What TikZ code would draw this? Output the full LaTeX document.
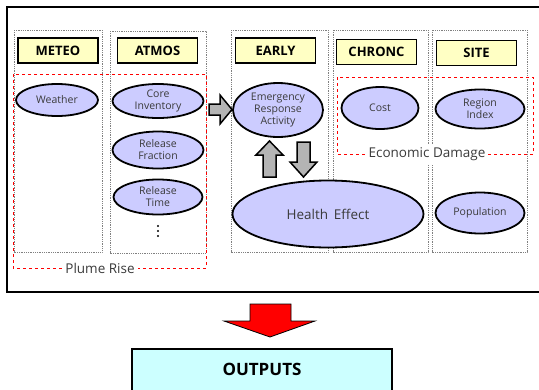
\documentclass[tikz,border=0pt]{standalone}
\usepackage{fontspec}
\setmainfont{Open Sans}
\usetikzlibrary{shapes.geometric}
\definecolor{titlefill}{HTML}{FFFFC4}
\definecolor{itemfill}{HTML}{CCCCFF}
\definecolor{outfill}{HTML}{CCFFFF}
\definecolor{arrowgray}{HTML}{B4B4B4}
\definecolor{textgray}{HTML}{3A3A3A}
\tikzset{
  col/.style={draw=gray, densely dotted, line width=0.8pt},
  titlebox/.style={draw, line width=1.8pt, fill=titlefill, minimum width=80pt,
    minimum height=25pt, inner sep=0pt, font=\fontsize{13}{15}\selectfont\bfseries},
  item/.style={ellipse, draw, line width=1.8pt, fill=itemfill, inner sep=0pt,
    align=center, text=textgray, font=\fontsize{10.5}{12}\selectfont},
  group/.style={draw=red, dashed, line width=0.9pt},
  grouplabel/.style={fill=white, inner sep=3pt, text=textgray, font=\fontsize{13.5}{15}\selectfont},
  blockarrow/.style={draw, line width=1.5pt, fill=arrowgray, line join=miter}
}
\begin{document}
\begin{tikzpicture}[x=1pt, y=-1pt]
  \useasboundingbox (0,0) rectangle (539,389);
  % outer frame
  \draw[line width=1.6pt] (7,7) rectangle (545,292);
  % columns
  \draw[col] (14,30) rectangle (102,252);
  \draw[col] (110,31) rectangle (206,253);
  \draw[col] (231,30) rectangle (328,252);
  \draw[col] (333,30) rectangle (428,252);
  \draw[col] (432,30) rectangle (527,252);
  \node[titlebox] (meteo) at (58,50.5) {METEO};
  \node[titlebox] (atmos) at (157.5,50.5) {ATMOS};
  \node[titlebox] (early) at (275.5,50.5) {EARLY};
  \node[titlebox] (chronc) at (376.5,52) {CHRONC};
  \node[titlebox] (site) at (476.5,53) {SITE};
  % groups
  \draw[group] (13,74) rectangle (206,268);
  \node[grouplabel] (plume) at (100,268) {Plume Rise};
  \draw[group] (337,77) rectangle (533,154);
  \node[grouplabel] (econ) at (427,154) {Economic Damage};
  % items
  \node[item, minimum width=82pt, minimum height=32pt] (weather) at (57,100) {Weather};
  \node[item, minimum width=91pt, minimum height=34pt] (core) at (158,101) {Core\\Inventory};
  \node[item, minimum width=91pt, minimum height=37pt] (fraction) at (158,150) {Release\\Fraction};
  \node[item, minimum width=89pt, minimum height=35pt] (reltime) at (158,197) {Release\\Time};
  \foreach \y in {226,231,236} \fill (158,\y) circle (1.2pt);
  \node[item, minimum width=90pt, minimum height=54pt] (emergency) at (278,110) {Emergency\\Response\\Activity};
  \node[item, minimum width=191pt, minimum height=67pt, font=\fontsize{13.5}{15}\selectfont] (health) at (328,214) {Health\, Effect};
  \node[item, minimum width=77pt, minimum height=42pt] (cost) at (380,108) {Cost};
  \node[item, minimum width=89pt, minimum height=39pt] (region) at (480,109) {Region\\Index};
  \node[item, minimum width=89pt, minimum height=41pt] (population) at (480,213) {Population};
  % block arrows
  \draw[blockarrow] (209,104)--(220,104)--(220,95)--(232,109.5)--(220,124)--(220,115)--(209,115)--cycle;
  \draw[blockarrow] (263,177)--(263,155)--(256,155)--(269.5,141)--(283,155)--(276,155)--(276,177)--cycle;
  \draw[blockarrow] (297,142)--(310,142)--(310,162)--(317,162)--(303.5,177)--(290,162)--(297,162)--cycle;
  \draw[line width=0.8pt, fill=red, line join=miter] (250,304)--(291,304)--(291,321)--(315,321)--(270,337)--(224,321)--(250,321)--cycle;
  % output
  \draw[line width=1.4pt, fill=outfill] (132,395) |- (392,349) -- (392,395);
  \node[font=\fontsize{17}{19}\selectfont\bfseries] (outputs) at (262,369) {OUTPUTS};
\end{tikzpicture}
\end{document}
